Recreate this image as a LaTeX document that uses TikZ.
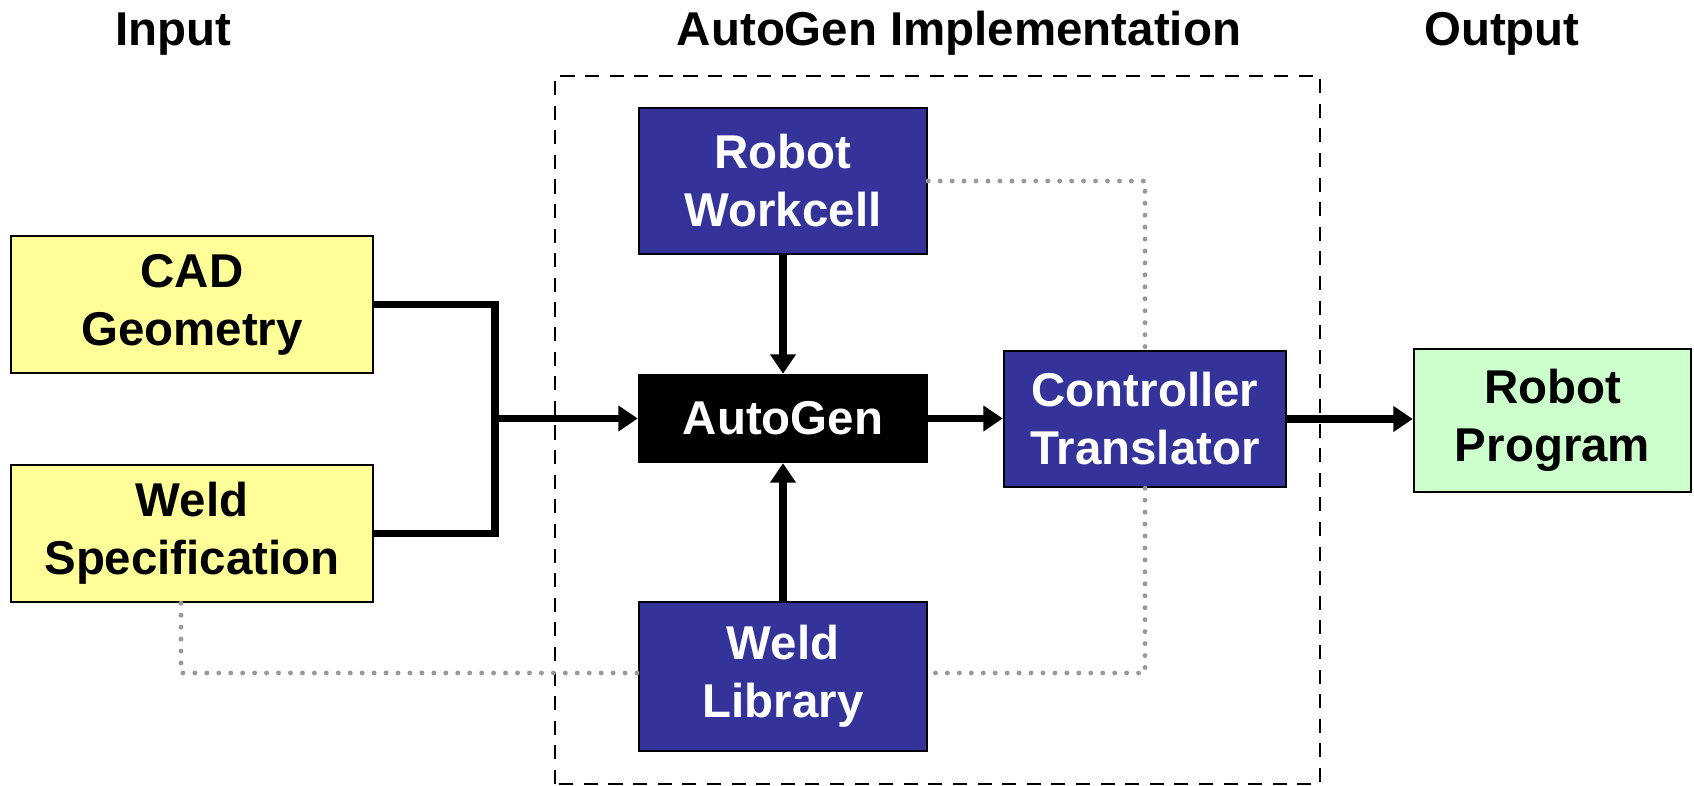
\documentclass[tikz,border=0pt]{standalone}
\usepackage{fontspec}
\setmainfont{Liberation Sans}
\usetikzlibrary{arrows.meta,calc}

\definecolor{navy}{HTML}{333399}
\definecolor{paleyellow}{HTML}{FFFF99}
\definecolor{palegreen}{HTML}{CCFFCC}
\definecolor{dotgray}{HTML}{999999}

\begin{document}
\begin{tikzpicture}[>={Triangle[length=5.5pt,width=7pt]}, font=\fontsize{13.5}{16.5}\selectfont\bfseries]
\tikzset{
block/.style    = {draw, shape=rectangle, line width=0.7pt, inner sep=0pt, align=center},
inbox/.style    = {block, fill=paleyellow, minimum width=3.62cm, minimum height=1.37cm},
impl/.style     = {block, fill=navy, text=white, minimum width=2.88cm},
outbox/.style   = {block, fill=palegreen, minimum width=2.77cm, minimum height=1.43cm},
title/.style    = {anchor=base},
conn/.style     = {line width=2.2pt},
link/.style     = {dotgray, line width=1.4pt, line cap=round, dash pattern=on 0pt off 3.4pt},
frame/.style    = {line width=0.6pt, dash pattern=on 4pt off 3pt},
}
    \useasboundingbox (0,0) rectangle (16.94,7.86);

    % Titles
    \node [title] (intitle)   at (1.73,7.40)  {Input};
    \node [title] (impltitle) at (9.59,7.40)  {AutoGen Implementation};
    \node [title] (outtitle)  at (15.02,7.40) {Output};

    % Implementation frame
    \draw [frame] (5.55,0.02) rectangle (13.20,7.10);

    % Main nodes
    \node [inbox]                                     (cad)      at (1.92,4.815)  {CAD\\Geometry};
    \node [inbox]                                     (spec)     at (1.92,2.525)  {Weld\\Specification};
    \node [impl, minimum height=1.46cm]               (workcell) at (7.83,6.05)   {Robot\\Workcell};
    \node [impl, fill=black, minimum height=0.87cm]   (autogen)  at (7.83,3.675)  {AutoGen};
    \node [impl, minimum width=2.82cm, minimum height=1.36cm] (ctrl) at (11.45,3.67) {Controller\\Translator};
    \node [impl, minimum height=1.49cm]               (library)  at (7.83,1.095)  {Weld\\Library};
    \node [outbox]                                    (program)  at (15.525,3.655) {Robot\\Program};

    \coordinate (join) at (4.95,3.675);

    % Main edges
    \draw [conn]      (cad.east) -| (join) |- (spec.east);
    \draw [conn, ->]  (join)          --  (autogen.west);
    \draw [conn, ->]  (workcell)      --  (autogen);
    \draw [conn, ->]  (library)       --  (autogen);
    \draw [conn, ->]  (autogen)       --  (autogen.east -| ctrl.west);
    \draw [conn, ->]  (ctrl)          --  (ctrl.east -| program.west);

    % Dotted links
    \draw [link] (workcell.east) -| (ctrl.north);
    \draw [link] (ctrl.south) |- ([yshift=0.035cm]library.east);
    \draw [link] ([xshift=-0.11cm]spec.south) |- ([yshift=0.035cm]library.west);

\end{tikzpicture}
\end{document}
